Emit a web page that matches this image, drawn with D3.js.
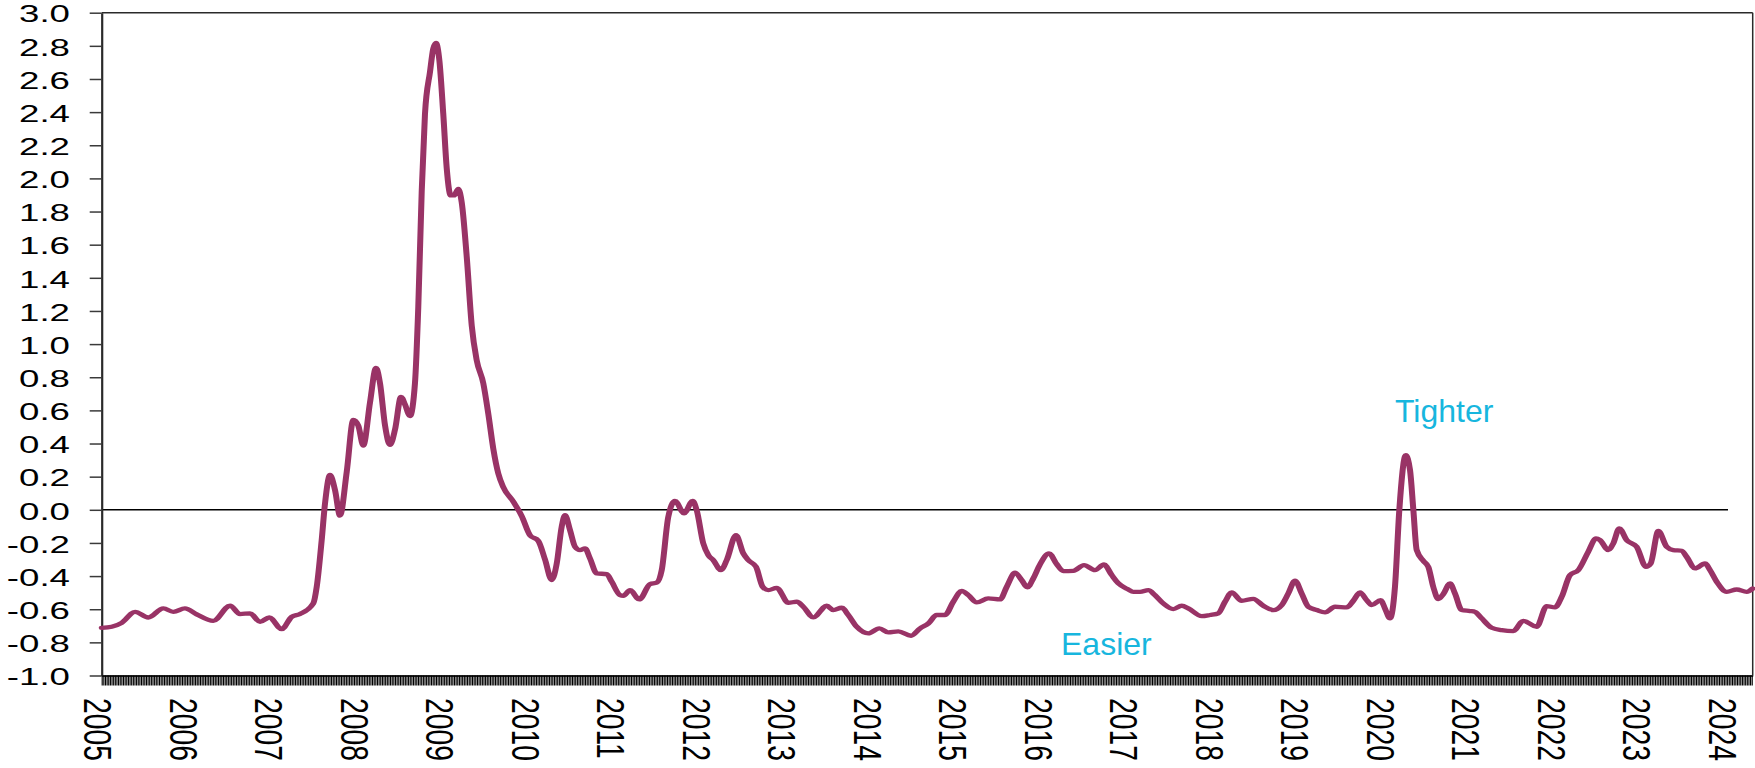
<!DOCTYPE html>
<html><head><meta charset="utf-8">
<script src="https://cdn.jsdelivr.net/npm/d3@7"></script>
<style>body{margin:0;background:#fff}svg{display:block}</style>
</head><body>
<svg id="chart" width="1755" height="768"></svg>
<script>
// decimal years of the weekly-ish readings
const years = [2005.049,2005.166,2005.283,2005.439,2005.594,2005.770,2005.887,2006.023,2006.160,2006.354,2006.550,2006.667,2006.784,2006.901,2007.009,2007.154,2007.271,2007.368,2007.524,2007.564,2007.622,2007.661,2007.719,2007.778,2007.836,2007.915,2007.992,2008.050,2008.109,2008.187,2008.257,2008.304,2008.363,2008.421,2008.480,2008.550,2008.596,2008.655,2008.713,2008.752,2008.792,2008.830,2008.889,2008.927,2008.959,2008.998,2009.044,2009.084,2009.131,2009.170,2009.220,2009.260,2009.318,2009.377,2009.435,2009.512,2009.571,2009.629,2009.688,2009.746,2009.863,2009.961,2010.058,2010.156,2010.234,2010.312,2010.371,2010.429,2010.468,2010.526,2010.585,2010.643,2010.702,2010.760,2010.839,2010.956,2011.014,2011.111,2011.150,2011.228,2011.337,2011.462,2011.540,2011.599,2011.676,2011.754,2011.860,2011.961,2012.008,2012.085,2012.144,2012.202,2012.292,2012.359,2012.468,2012.553,2012.612,2012.702,2012.780,2012.846,2012.944,2013.080,2013.178,2013.255,2013.372,2013.529,2013.606,2013.704,2013.781,2013.880,2014.015,2014.144,2014.249,2014.366,2014.515,2014.620,2014.717,2014.815,2014.912,2015.009,2015.108,2015.185,2015.283,2015.418,2015.556,2015.634,2015.731,2015.809,2015.875,2015.945,2016.023,2016.129,2016.219,2016.296,2016.413,2016.538,2016.667,2016.772,2016.862,2016.939,2017.056,2017.115,2017.193,2017.290,2017.368,2017.465,2017.582,2017.681,2017.758,2017.915,2018.012,2018.109,2018.187,2018.265,2018.382,2018.518,2018.635,2018.752,2018.850,2018.927,2019.006,2019.084,2019.161,2019.260,2019.357,2019.474,2019.611,2019.688,2019.766,2019.844,2019.903,2020.008,2020.058,2020.117,2020.175,2020.226,2020.301,2020.351,2020.390,2020.429,2020.506,2020.565,2020.623,2020.682,2020.740,2020.819,2020.877,2020.955,2021.053,2021.111,2021.189,2021.306,2021.423,2021.559,2021.676,2021.832,2021.949,2022.047,2022.125,2022.222,2022.319,2022.436,2022.526,2022.573,2022.670,2022.728,2022.799,2022.885,2023.002,2023.111,2023.166,2023.255,2023.353,2023.430,2023.529,2023.587,2023.684,2023.801,2023.860,2023.938,2024.055,2024.172,2024.289,2024.359];
const values = [-0.713,-0.706,-0.682,-0.616,-0.650,-0.595,-0.616,-0.595,-0.631,-0.670,-0.579,-0.629,-0.625,-0.676,-0.650,-0.720,-0.646,-0.629,-0.565,-0.465,-0.183,0.039,0.210,0.119,-0.035,0.230,0.543,0.508,0.388,0.648,0.857,0.764,0.508,0.392,0.485,0.682,0.636,0.566,0.764,1.228,1.924,2.389,2.644,2.783,2.818,2.714,2.389,2.064,1.897,1.897,1.936,1.855,1.530,1.112,0.903,0.764,0.578,0.369,0.218,0.137,0.049,-0.037,-0.153,-0.188,-0.300,-0.424,-0.324,-0.102,-0.032,-0.122,-0.223,-0.243,-0.233,-0.293,-0.384,-0.388,-0.434,-0.515,-0.519,-0.485,-0.541,-0.448,-0.440,-0.364,-0.042,0.054,-0.022,0.054,-0.002,-0.203,-0.273,-0.304,-0.364,-0.304,-0.153,-0.263,-0.304,-0.344,-0.465,-0.485,-0.471,-0.561,-0.555,-0.585,-0.649,-0.579,-0.605,-0.591,-0.635,-0.706,-0.746,-0.716,-0.740,-0.734,-0.760,-0.716,-0.686,-0.635,-0.635,-0.555,-0.489,-0.515,-0.559,-0.535,-0.541,-0.465,-0.380,-0.424,-0.468,-0.414,-0.330,-0.263,-0.328,-0.370,-0.368,-0.334,-0.364,-0.330,-0.394,-0.444,-0.481,-0.495,-0.495,-0.485,-0.515,-0.565,-0.599,-0.579,-0.595,-0.642,-0.635,-0.625,-0.555,-0.499,-0.549,-0.537,-0.579,-0.605,-0.575,-0.505,-0.428,-0.505,-0.585,-0.605,-0.619,-0.585,-0.589,-0.549,-0.499,-0.545,-0.575,-0.545,-0.595,-0.655,-0.465,0.000,0.330,0.240,0.000,-0.243,-0.308,-0.344,-0.465,-0.539,-0.509,-0.444,-0.505,-0.605,-0.611,-0.616,-0.655,-0.712,-0.726,-0.732,-0.670,-0.706,-0.581,-0.589,-0.525,-0.394,-0.364,-0.253,-0.173,-0.183,-0.243,-0.203,-0.112,-0.183,-0.223,-0.344,-0.324,-0.127,-0.223,-0.243,-0.247,-0.284,-0.354,-0.324,-0.364,-0.434,-0.495,-0.481,-0.495,-0.475];
const yTickValues = [-1.0,-0.8,-0.6,-0.4,-0.2,0.0,0.2,0.4,0.6,0.8,1.0,1.2,1.4,1.6,1.8,2.0,2.2,2.4,2.6,2.8,3.0];
const xTickYears = [2005,2006,2007,2008,2009,2010,2011,2012,2013,2014,2015,2016,2017,2018,2019,2020,2021,2022,2023,2024];
const annotationTexts = ["Tighter","Easier"];
const annotationYears = [2020.175,2016.269];
const annotationValues = [0.529,-0.877];
const zeroLineEnd = 2024.07;

(function () {
const svg = d3.select("#chart");
const mLeft = 101.7, mRight = 1752.7, mTop = 12.7, mBottom = 675.5;
const x = d3.scaleLinear().domain([years[0], years[years.length-1]]).range([mLeft, mRight]);
const y = d3.scaleLinear().domain([-1, 3]).range([mBottom, mTop]);
const font = "'Liberation Sans', Arial, sans-serif";
const axisColor = "#2a2a2a";
const stretch = 1.4; // horizontal stretch of the original rendering

// plot border (top and right)
svg.append("line").attr("x1", mLeft).attr("x2", mRight).attr("y1", mTop).attr("y2", mTop)
  .attr("stroke", axisColor).attr("stroke-width", 1.5);
svg.append("line").attr("x1", mRight).attr("x2", mRight).attr("y1", mTop).attr("y2", mBottom)
  .attr("stroke", axisColor).attr("stroke-width", 1.5);

// zero line
svg.append("line").attr("x1", x(years[0])).attr("x2", x(zeroLineEnd))
  .attr("y1", y(0)).attr("y2", y(0)).attr("stroke", "#000").attr("stroke-width", 1.5);

// Y axis
const yAxis = svg.append("g").attr("transform", `translate(${mLeft},0)`)
  .call(d3.axisLeft(y).tickValues(yTickValues).tickSize(12).tickSizeOuter(0).tickFormat(d3.format(".1f")));
yAxis.select(".domain").attr("stroke", axisColor).attr("stroke-width", 2.2);
yAxis.selectAll(".tick line").attr("stroke", "#3a3a3a").attr("stroke-width", 1.5);
const ySx = 1.56;
yAxis.selectAll(".tick text")
  .attr("font-family", font).attr("font-size", 23.5).attr("fill", "#000")
  .attr("text-anchor", "end").attr("x", null).attr("dy", null)
  .attr("dominant-baseline", "central")
  .attr("transform", `translate(-31.7,1.2) scale(${ySx},1)`)
  .text(d => d3.format(".1f")(d).replace("−", "-"));

// X axis: dense weekly tick marks
const weekTicks = d3.range(years[0], years[years.length-1] + 0.0001, 1/52.18);
const xAxisMinor = svg.append("g").attr("transform", `translate(0,${mBottom})`)
  .call(d3.axisBottom(x).tickValues(weekTicks).tickSize(10).tickSizeOuter(0).tickFormat(""));
xAxisMinor.select(".domain").attr("stroke", axisColor).attr("stroke-width", 2);
xAxisMinor.selectAll(".tick line").attr("stroke", "#000").attr("stroke-width", 1.15);

// X axis year labels
const xAxisLabels = svg.append("g").attr("transform", `translate(0,${mBottom})`)
  .call(d3.axisBottom(x).tickValues(xTickYears).tickSize(0).tickFormat(d3.format("d")));
xAxisLabels.select(".domain").remove();
xAxisLabels.selectAll(".tick text")
  .attr("font-family", font).attr("font-size", 28.3).attr("fill", "#000")
  .attr("y", null).attr("dy", null)
  .attr("text-anchor", "start").attr("dominant-baseline", "central")
  .attr("transform", `translate(0,${698 - mBottom}) rotate(90) scale(1,1.38)`);

// series line, drawn in a horizontally stretched frame so vertical strokes are wider
const line = d3.line().x((d, i) => x(years[i]) / stretch).y(d => y(d)).curve(d3.curveMonotoneX);
svg.append("g").attr("transform", `scale(${stretch},1)`)
  .append("path").datum(values).attr("d", line)
  .attr("fill", "none").attr("stroke", "#993366").attr("stroke-width", 4.3)
  .attr("stroke-linejoin", "round").attr("stroke-linecap", "round");

// annotations
svg.selectAll("text.ann").data(annotationTexts).enter().append("text")
  .attr("class", "ann")
  .attr("x", (d, i) => x(annotationYears[i]))
  .attr("y", (d, i) => y(annotationValues[i]))
  .attr("font-family", font).attr("font-size", 32).attr("fill", "#17B6DE")
  .text(d => d);
})();
</script>
</body></html>
